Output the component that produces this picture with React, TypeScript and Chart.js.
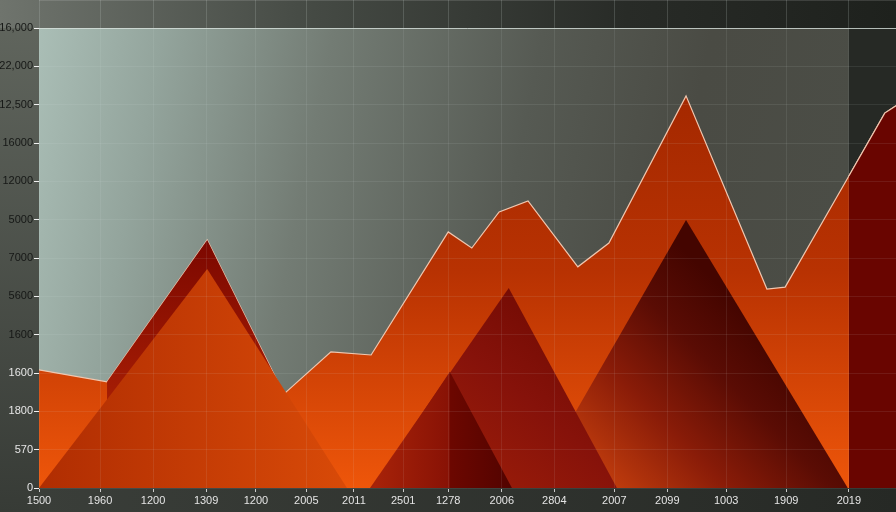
import React, { useEffect, useRef } from "react";
import { Chart, registerables } from "chart.js";

Chart.register(...registerables);

// Tick labels as printed on the chart
const xLabels = ["1500", "1960", "1200", "1309", "1200", "2005", "2011", "2501", "1278", "2006", "2804", "2007", "2099", "1003", "1909", "2019"];
const xTickPos = [0, 1.14, 2.13, 3.12, 4.05, 4.99, 5.88, 6.8, 7.64, 8.64, 9.62, 10.74, 11.73, 12.83, 13.95, 15.12];
const yLabels = ["0", "570", "1800", "1600", "1600", "5600", "7000", "5000", "12000", "16000", "12,500", "22,000", "16,000"];

// Main ridge series
const mainX = [0, 1.27, 3.14, 4.57, 5.45, 6.2, 7.64, 8.08, 8.59, 9.13, 10.06, 10.64, 12.08, 13.59, 13.93, 15.12, 15.79, 16];
const mainY = [3.08, 2.77, 6.47, 2.45, 3.55, 3.47, 6.68, 6.26, 7.2, 7.49, 5.77, 6.39, 10.23, 5.19, 5.24, 8.14, 9.78, 9.97];

// Last (dark) section of the main series
const tailX = [15.12, 15.79, 16];
const tailY = [8.14, 9.78, 9.97];

// Dark ridge behind the left peak
const ridgeX = [1.27, 3.14, 4.57];
const ridgeY = [2.77, 6.47, 2.45];

// Peaks (triangles)
const peakLeftX = [0, 3.14, 5.75];
const peakLeftY = [0, 5.71, 0];
const peakAX = [6.22, 7.67, 8.83];
const peakAY = [0, 3.03, 0];
const peakBX = [6.18, 8.77, 10.79];
const peakBY = [0, 5.22, 0];
const peakCX = [9.2, 12.08, 15.1];
const peakCY = [0, 6.99, 0];

const pts = (xs: number[], ys: number[]) => xs.map((x, i) => ({ x, y: ys[i] }));

type Stop = [number, string];
function grad(fallback: string, x0: number, y0: number, x1: number, y1: number, stops: Stop[]) {
  return (c: any) => {
    const chart = c.chart;
    if (!chart.chartArea || !chart.scales.x || !chart.scales.y) return fallback;
    const sx = chart.scales.x, sy = chart.scales.y;
    const g = chart.ctx.createLinearGradient(
      sx.getPixelForValue(x0), sy.getPixelForValue(y0),
      sx.getPixelForValue(x1), sy.getPixelForValue(y1)
    );
    stops.forEach(([o, col]) => g.addColorStop(o, col));
    return g;
  };
}

const bgPlugin = {
  id: "bgPlugin",
  beforeDraw(chart: any) {
    const { ctx, chartArea: ca, width: W, height: H } = chart;
    if (!ca) return;
    ctx.save();
    let g = ctx.createLinearGradient(0, 0, 0, H);
    g.addColorStop(0, "#62675f");
    g.addColorStop(1, "#373b36");
    ctx.fillStyle = g;
    ctx.fillRect(0, 0, W, H);
    g = ctx.createLinearGradient(0, 0, W, 0);
    g.addColorStop(0, "#3b3f3a");
    g.addColorStop(1, "#262925");
    ctx.fillStyle = g;
    ctx.fillRect(ca.left, ca.bottom, W - ca.left, H - ca.bottom);
    g = ctx.createLinearGradient(0, 0, W, 0);
    g.addColorStop(0, "#6f746d");
    g.addColorStop(0.35, "#454a44");
    g.addColorStop(0.7, "#282b27");
    g.addColorStop(1, "#1e211d");
    ctx.fillStyle = g;
    ctx.fillRect(0, 0, W, ca.top);
    const xr = chart.scales.x.getPixelForValue(xTickPos[xTickPos.length - 1]);
    g = ctx.createLinearGradient(ca.left, ca.top, xr, ca.top + 160);
    g.addColorStop(0, "#aabeb6");
    g.addColorStop(0.15, "#93a49c");
    g.addColorStop(0.35, "#737c74");
    g.addColorStop(0.6, "#565a53");
    g.addColorStop(0.8, "#4a4b44");
    g.addColorStop(1, "#4b4d46");
    ctx.fillStyle = g;
    ctx.fillRect(ca.left, ca.top, xr - ca.left, ca.bottom - ca.top);
    ctx.fillStyle = "#262925";
    ctx.fillRect(xr, ca.top, ca.right - xr, ca.bottom - ca.top);
    ctx.restore();
  },
};

const font = { family: "'Liberation Sans', Arial, sans-serif", size: 11 };
const gridCol = "rgba(225,235,230,0.09)";

export default function App() {
  const ref = useRef<HTMLCanvasElement | null>(null);
  useEffect(() => {
    document.body.style.margin = "0";
    if (!ref.current) return;
    const base = { pointRadius: 0, tension: 0, fill: "origin", borderWidth: 0, borderColor: "rgba(0,0,0,0)" };
    const chart = new Chart(ref.current, {
      type: "line",
      data: {
        datasets: [
          {
            ...base, order: 4, data: pts(peakAX, peakAY),
            backgroundColor: grad("#8a1205", 6.22, 0, 8.83, 0, [[0, "#a82309"], [0.55, "#881205"], [0.56, "#6c0700"], [1, "#520300"]]),
          },
          {
            ...base, order: 5, data: pts(peakBX, peakBY),
            backgroundColor: grad("#8a1204", 6.6, 0, 9.6, 5.2, [[0, "#a52208"], [0.6, "#86120a"], [1, "#700a02"]]),
          },
          {
            ...base, order: 6, data: pts(peakCX, peakCY),
            backgroundColor: grad("#6a1005", 9.9, 0, 13.2, 4.6, [[0, "#d4480f"], [0.45, "#8a1c08"], [0.75, "#5a0c04"], [1, "#440500"]]),
          },
          {
            ...base, order: 7, data: pts(peakLeftX, peakLeftY),
            backgroundColor: grad("#c43c05", 0, 0, 5.75, 0, [[0, "#b02d02"], [1, "#d84a08"]]),
          },
          {
            ...base, order: 8, data: pts(ridgeX, ridgeY),
            backgroundColor: grad("#8c1200", 0, 6.47, 0, 2.45, [[0, "#7c0800"], [1, "#a41c04"]]),
          },
          {
            ...base, order: 9, data: pts(tailX, tailY), borderWidth: 1.2, borderColor: "#f0c7b0",
            backgroundColor: "#690500",
          },
          {
            ...base, order: 10, data: pts(mainX, mainY), borderWidth: 1.2, borderColor: "#f0c7b0",
            backgroundColor: grad("#c43a04", 0, 10.23, 0, 0, [[0, "#a42800"], [0.45, "#b83202"], [1, "#ee560a"]]),
          },
        ] as any,
      },
      plugins: [bgPlugin],
      options: {
        responsive: false,
        animation: false,
        events: [],
        layout: { padding: 0 },
        plugins: { legend: { display: false }, tooltip: { enabled: false } },
        scales: {
          x: {
            type: "linear", position: "bottom", min: 0, max: 16,
            afterBuildTicks: (s: any) => { s.ticks = xTickPos.map((v) => ({ value: v })); },
            afterFit: (s: any) => { s.height = 24; },
            grid: { z: 1, color: gridCol, tickColor: "rgba(240,240,240,0.8)", tickLength: 4 },
            border: { display: true, color: "rgba(230,230,230,0.3)" },
            ticks: {
              autoSkip: false, maxRotation: 0, padding: 2, color: "#e4e4e4", font,
              callback: (_v: any, i: number) => xLabels[i],
            },
          },
          xTop: {
            type: "linear", position: "top", min: 0, max: 16,
            afterBuildTicks: (s: any) => { s.ticks = xTickPos.map((v) => ({ value: v })); },
            afterFit: (s: any) => { s.height = 28; },
            grid: { drawOnChartArea: false, tickColor: "rgba(200,210,205,0.2)", tickLength: 28 },
            border: { display: false },
            ticks: { display: false },
          },
          y: {
            type: "linear", position: "left", min: 0, max: 12,
            afterFit: (s: any) => { s.width = 39; },
            grid: {
              z: 1, tickColor: "#f2f2f2", tickLength: 5,
              color: (c: any) => (c.tick && c.tick.value === 12 ? "rgba(215,225,220,0.8)" : gridCol),
            },
            border: { display: false },
            ticks: {
              stepSize: 1, padding: 1, font,
              color: (c: any) => (c.index <= 3 ? "#e6e6e6" : "#161816"),
              callback: (v: any) => yLabels[Math.round(Number(v))],
            },
          },
        },
      } as any,
    });
    return () => chart.destroy();
  }, []);
  return (
    <div style={{ width: 896, height: 512 }}>
      <canvas ref={ref} width={896} height={512} style={{ display: "block" }} />
    </div>
  );
}
